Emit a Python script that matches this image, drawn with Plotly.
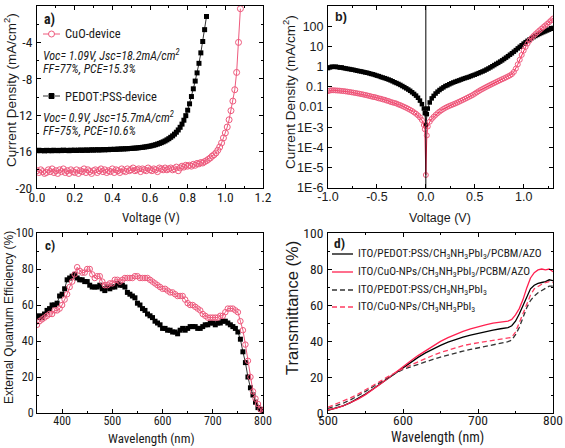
import plotly.graph_objects as go

# ---------------- Panel a: J-V under illumination ----------------
v_pedot = [0.00,0.01,0.02,0.03,0.04,0.05,0.06,0.07,0.08,0.09,
           0.10,0.11,0.12,0.13,0.14,0.15,0.16,0.17,0.18,0.19,
           0.20,0.21,0.22,0.23,0.24,0.25,0.26,0.27,0.28,0.29,
           0.30,0.31,0.32,0.33,0.34,0.35,0.36,0.37,0.38,0.39,
           0.40,0.41,0.42,0.43,0.44,0.45,0.46,0.47,0.48,0.49,
           0.50,0.51,0.52,0.53,0.54,0.55,0.56,0.57,0.58,0.59,
           0.60,0.61,0.62,0.63,0.64,0.65,0.66,0.67,0.68,0.69,
           0.70,0.71,0.72,0.73,0.74,0.75,0.76,0.77,0.78,0.79,
           0.80,0.81,0.82,0.83,0.84,0.85,0.86,0.87,0.88,0.89,0.90]
j_pedot = [-15.9,-15.85,-15.9,-15.88,-15.92,-15.86,-15.9,-15.87,-15.91,-15.85,
           -15.88,-15.9,-15.86,-15.89,-15.84,-15.88,-15.86,-15.9,-15.85,-15.87,
           -15.84,-15.88,-15.85,-15.83,-15.87,-15.84,-15.82,-15.86,-15.83,-15.8,
           -15.84,-15.81,-15.79,-15.83,-15.8,-15.78,-15.81,-15.77,-15.79,-15.75,
           -15.77,-15.74,-15.76,-15.72,-15.73,-15.7,-15.71,-15.68,-15.69,-15.66,
           -15.65,-15.63,-15.62,-15.6,-15.58,-15.55,-15.53,-15.5,-15.47,-15.43,
           -15.4,-15.35,-15.3,-15.24,-15.17,-15.1,-15.02,-14.93,-14.83,-14.71,
           -14.58,-14.43,-14.27,-14.08,-13.87,-13.62,-13.33,-12.98,-12.55,-12.05,
           -11.45,-10.75,-9.95,-9.1,-8.25,-7.35,-6.3,-5.15,-3.9,-2.6,-1.15]
v_cuo = [0.00,0.01,0.02,0.03,0.04,0.05,0.06,0.07,0.08,0.09,
         0.10,0.11,0.12,0.13,0.14,0.15,0.16,0.17,0.18,0.19,
         0.20,0.21,0.22,0.23,0.24,0.25,0.26,0.27,0.28,0.29,
         0.30,0.31,0.32,0.33,0.34,0.35,0.36,0.37,0.38,0.39,
         0.40,0.41,0.42,0.43,0.44,0.45,0.46,0.47,0.48,0.49,
         0.50,0.51,0.52,0.53,0.54,0.55,0.56,0.57,0.58,0.59,
         0.60,0.61,0.62,0.63,0.64,0.65,0.66,0.67,0.68,0.69,
         0.70,0.71,0.72,0.73,0.74,0.75,0.76,0.77,0.78,0.79,
         0.80,0.81,0.82,0.83,0.84,0.85,0.86,0.87,0.88,0.89,
         0.90,0.91,0.92,0.93,0.94,0.95,0.96,0.97,0.98,0.99,
         1.00,1.01,1.02,1.03,1.04,1.05,1.06,1.07,1.08]
j_cuo = [-18.1,-18.3,-18.0,-18.2,-18.4,-18.3,-18.0,-18.2,-17.9,-18.3,
         -18.1,-18.4,-18.0,-18.2,-17.9,-18.3,-18.1,-18.4,-18.0,-18.2,
         -18.3,-18.0,-18.4,-18.1,-18.2,-17.9,-18.3,-18.0,-18.2,-18.4,
         -18.1,-18.0,-18.3,-18.1,-17.9,-18.2,-18.0,-18.3,-18.1,-18.2,
         -17.9,-18.3,-18.0,-18.1,-18.3,-17.9,-18.1,-18.2,-17.9,-18.1,
         -18.0,-17.8,-18.1,-18.0,-17.9,-18.2,-17.9,-18.0,-18.1,-17.8,
         -18.0,-18.1,-17.9,-18.0,-18.2,-17.8,-17.9,-18.0,-17.8,-18.0,
         -17.9,-17.8,-18.0,-17.9,-17.7,-18.1,-17.8,-17.6,-17.7,-17.5,
         -17.6,-17.5,-17.6,-17.4,-17.5,-17.3,-17.35,-17.2,-17.25,-17.1,
         -17.0,-16.85,-16.7,-16.5,-16.35,-16.15,-15.85,-15.5,-15.05,-14.5,
         -13.95,-13.3,-12.5,-11.5,-10.45,-9.2,-7.3,-4.0,-0.3]
a_xticks = [0.0, 0.2, 0.4, 0.6, 0.8, 1.0, 1.2]
a_xticktext = ["0.0", "0.2", "0.4", "0.6", "0.8", "1.0", "1.2"]
a_yticks = [-20, -16, -12, -8, -4, 0]
a_yticktext = ["-20", "-16", "-12", "-8", "-4", "0"]

# ---------------- Panel b: dark J-V (log) ----------------
v_dark = [-1.00,-0.98,-0.96,-0.94,-0.92,-0.90,-0.88,-0.86,-0.84,-0.82,
          -0.80,-0.78,-0.76,-0.74,-0.72,-0.70,-0.68,-0.66,-0.64,-0.62,
          -0.60,-0.58,-0.56,-0.54,-0.52,-0.50,-0.48,-0.46,-0.44,-0.42,
          -0.40,-0.38,-0.36,-0.34,-0.32,-0.30,-0.28,-0.26,-0.24,-0.22,
          -0.20,-0.18,-0.16,-0.14,-0.12,-0.10,-0.08,-0.06,-0.04,-0.02,
          -0.01,0.00,0.01,
          0.02,0.04,0.06,0.08,0.10,0.12,0.14,0.16,0.18,0.20,
          0.22,0.24,0.26,0.28,0.30,0.32,0.34,0.36,0.38,0.40,
          0.42,0.44,0.46,0.48,0.50,0.52,0.54,0.56,0.58,0.60,
          0.62,0.64,0.66,0.68,0.70,0.72,0.74,0.76,0.78,0.80,
          0.82,0.84,0.86,0.88,0.90,0.92,0.94,0.96,0.98,1.00,
          1.02,1.04,1.06,1.08,1.10,1.12,1.14,1.16,1.18,1.20,
          1.22,1.24,1.26,1.28,1.30]
j_dark_pedot = [0.85,0.92,1.0,0.97,1.0,0.95,0.9,0.92,0.85,0.82,
                0.78,0.76,0.72,0.7,0.66,0.63,0.6,0.58,0.55,0.52,
                0.5,0.47,0.44,0.42,0.39,0.36,0.34,0.31,0.29,0.27,
                0.25,0.23,0.21,0.19,0.17,0.155,0.14,0.125,0.11,0.097,
                0.085,0.074,0.064,0.054,0.045,0.037,0.029,0.021,0.014,0.0085,
                0.005,0.0013,0.0045,
                0.0085,0.017,0.027,0.036,0.047,0.058,0.07,0.082,0.095,0.11,
                0.12,0.135,0.15,0.165,0.18,0.195,0.21,0.23,0.25,0.27,
                0.29,0.31,0.34,0.37,0.4,0.44,0.48,0.53,0.58,0.64,
                0.72,0.81,0.92,1.05,1.2,1.37,1.55,1.78,2.05,2.4,
                2.8,3.3,3.9,4.6,5.5,6.6,8.0,9.6,11.5,13.8,
                16.3,19.0,22.0,25.5,29.0,33.0,37.0,41.5,46.0,51.0,
                56.0,62.0,68.0,75.0,82.0]
j_dark_cuo = [0.062,0.066,0.068,0.068,0.067,0.066,0.065,0.063,0.062,0.06,
              0.058,0.056,0.054,0.052,0.05,0.048,0.046,0.044,0.042,0.04,
              0.038,0.036,0.034,0.032,0.031,0.029,0.027,0.026,0.024,0.023,
              0.021,0.02,0.018,0.017,0.016,0.015,0.0135,0.0125,0.0113,0.0102,
              0.0092,0.0082,0.0073,0.0064,0.0055,0.0047,0.0039,0.0031,0.0023,0.0013,
              0.0008,0.0000044,0.0004,
              0.0011,0.0019,0.0026,0.0033,0.0041,0.005,0.006,0.007,0.0081,0.0092,
              0.0103,0.0114,0.0125,0.0137,0.015,0.0166,0.0184,0.0205,0.0228,0.0254,
              0.0284,0.0318,0.0356,0.04,0.046,0.053,0.061,0.07,0.079,0.089,
              0.1,0.112,0.125,0.14,0.156,0.174,0.194,0.215,0.24,0.265,
              0.295,0.33,0.37,0.43,0.55,0.8,1.3,2.2,3.8,6.2,
              9.5,14.0,19.5,26.0,33.0,41.0,50.0,61.0,74.0,90.0,
              108.0,130.0,158.0,195.0,240.0]
b_xticks = [-1.0, -0.5, 0.0, 0.5, 1.0]
b_xticktext = ["-1.0", "-0.5", "0.0", "0.5", "1.0"]
b_tickvals = [1e-6, 1e-5, 1e-4, 1e-3, 0.01, 0.1, 1, 10, 100, 1000]
b_ticktext = ["1E-6", "1E-5", "1E-4", "1E-3", "0.01", "0.1", "1", "10", "100", "1000"]

# ---------------- Panel c: EQE ----------------
wl_eqe = [350,355,360,365,370,375,380,385,390,395,
          400,405,410,415,420,425,430,435,440,445,
          450,455,460,465,470,475,480,485,490,495,
          500,505,510,515,520,525,530,535,540,545,
          550,555,560,565,570,575,580,585,590,595,
          600,605,610,615,620,625,630,635,640,645,
          650,655,660,665,670,675,680,685,690,695,
          700,705,710,715,720,725,730,735,740,745,
          750,755,760,765,770,775,780,785,790,795,800]
eqe_pedot = [53,54,53,55,57,58,60,60,61,65,
             66,69,74,75,76,77,75,74,74,73,
             73,71,70,70,70,71,69,68,70,69,
             70,70,72,71,71,70,67,66,65,64,
             61,60,58,57,55,54,53,51,50,49,
             47,47,46,46,45,45,44,46,47,46,
             47,48,48,48,47,47,48,49,49,50,
             50,49,50,50,51,51,50,49,48,47,
             45,41,34,28,20,14,10,6,3,2,1]
eqe_cuo = [49,51,52,53,54,55,55,57,57,58,
           60,63,66,70,73,77,81,79,78,78,
           80,80,77,75,76,76,73,71,71,72,
           72,74,74,73,74,75,75,75,75,76,
           76,75,75,75,75,74,73,72,71,70,
           69,69,68,67,67,66,65,65,65,63,
           61,60,60,59,58,57,55,54,53,53,
           53,53,53,54,54,56,58,58,58,57,
           56,51,46,38,29,20,12,8,5,2,1]

# ---------------- Panel d: transmittance ----------------
wl_t = [500,510,520,530,540,550,560,570,580,590,
        600,610,620,630,640,650,660,670,680,690,
        700,710,720,730,740,745,750,755,760,765,
        770,775,780,785,790,795,800]
t_pedot_full = [1.5,2.6,4.0,5.8,8.0,10.5,13.3,16.3,19.4,22.4,
                25.3,28.2,30.9,33.4,35.6,37.6,39.4,40.9,42.2,43.3,
                44.3,45.2,46.0,46.8,47.4,48.5,51.0,55.0,60.0,65.0,
                69.0,71.0,72.0,72.5,73.0,74.0,73.5]
t_cuo_full = [1.8,2.6,3.9,5.6,7.7,10.2,13.0,16.1,19.3,22.6,
              25.8,28.9,31.9,34.7,37.3,39.8,41.9,43.8,45.4,46.8,
              48.0,49.0,49.9,50.6,51.0,52.0,54.5,58.0,63.0,69.5,
              75.0,78.0,79.5,80.0,79.5,80.0,78.5]
t_pedot_psk = [2.5,3.8,5.4,7.3,9.5,12.0,14.6,17.2,19.8,22.1,
               24.2,25.7,27.1,28.5,29.8,31.1,32.3,33.4,34.4,35.3,
               36.1,36.9,37.7,38.6,39.6,40.5,43.5,47.5,53.0,58.5,
               62.5,65.0,66.8,68.0,69.0,70.5,70.5]
t_cuo_psk = [3.2,4.8,6.5,8.4,10.5,12.8,15.2,17.7,20.2,22.5,
             24.6,26.6,28.5,30.3,32.0,33.6,35.0,36.3,37.4,38.3,
             39.0,39.7,40.4,41.0,41.5,42.0,45.0,50.0,56.0,61.0,
             65.5,69.0,70.5,71.5,72.5,73.0,72.5]
d_labels = ["ITO/PEDOT:PSS/CH<sub>3</sub>NH<sub>3</sub>PbI<sub>3</sub>/PCBM/AZO",
            "ITO/CuO-NPs/CH<sub>3</sub>NH<sub>3</sub>PbI<sub>3</sub>/PCBM/AZO",
            "ITO/PEDOT:PSS/CH<sub>3</sub>NH<sub>3</sub>PbI<sub>3</sub>",
            "ITO/CuO-NPs/CH<sub>3</sub>NH<sub>3</sub>PbI<sub>3</sub>"]

# ---------------- styling ----------------
W, H = 565, 448
PINK = "#ee5a7d"
RED = "#ff2150"
REDD = "#ff3d62"
TXT = "#1a1a1a"
COND = "Roboto Condensed, Liberation Sans Narrow, Liberation Sans, Arial, sans-serif"
REG = "Liberation Sans, Arial, sans-serif"


def px(x, y):
    return x / W, 1 - y / H


def dom_x(a, b):
    return [a / W, b / W]


def dom_y(top, bottom):
    return [1 - bottom / H, 1 - top / H]


def axis(domain, anchor, fam, size, **kw):
    d = dict(domain=domain, anchor=anchor, automargin=False, showline=True, linecolor="black",
             linewidth=1, mirror="ticks", ticks="inside", ticklen=4, tickwidth=1,
             tickcolor="black", showgrid=False, zeroline=False,
             tickfont=dict(family=fam, size=size, color=TXT))
    d.update(kw)
    return d


def minor(dt):
    return dict(ticks="inside", ticklen=2, dtick=dt, tickcolor="black", showgrid=False)


fig = go.Figure()

# panel a
fig.add_trace(go.Scatter(x=v_pedot, y=j_pedot, mode="lines+markers", xaxis="x", yaxis="y",
                         line=dict(color="#333333", width=1),
                         marker=dict(symbol="square", size=5, color="black"), showlegend=False))
fig.add_trace(go.Scatter(x=v_cuo, y=j_cuo, mode="lines+markers", xaxis="x", yaxis="y",
                         line=dict(color=PINK, width=1),
                         marker=dict(symbol="circle-open", size=6, color=PINK, line=dict(width=1)),
                         showlegend=False))
# panel b
fig.add_trace(go.Scatter(x=v_dark, y=j_dark_pedot, mode="lines+markers", xaxis="x2", yaxis="y2",
                         line=dict(color="#333333", width=1),
                         marker=dict(symbol="square", size=4.5, color="black"), showlegend=False))
fig.add_trace(go.Scatter(x=v_dark, y=j_dark_cuo, mode="lines+markers", xaxis="x2", yaxis="y2",
                         line=dict(color=RED, width=1),
                         marker=dict(symbol="circle-open", size=5, color=PINK, line=dict(width=1)),
                         showlegend=False))
# panel c
fig.add_trace(go.Scatter(x=wl_eqe, y=eqe_pedot, mode="lines+markers", xaxis="x3", yaxis="y3",
                         line=dict(color="#333333", width=1),
                         marker=dict(symbol="square", size=5, color="black"), showlegend=False))
fig.add_trace(go.Scatter(x=wl_eqe, y=eqe_cuo, mode="lines+markers", xaxis="x3", yaxis="y3",
                         line=dict(color=PINK, width=1),
                         marker=dict(symbol="circle-open", size=5.5, color=PINK, line=dict(width=1)),
                         showlegend=False))
# panel d
d_series = [(t_pedot_full, "black", "solid"), (t_cuo_full, RED, "solid"),
            (t_pedot_psk, "#333333", "5px,3px"), (t_cuo_psk, REDD, "5px,3px")]
for ys, col, dash in d_series:
    fig.add_trace(go.Scatter(x=wl_t, y=ys, mode="lines", xaxis="x4", yaxis="y4",
                             line=dict(color=col, width=1.3, dash=dash), showlegend=False))

LX = dom_x(37, 263)
RX = dom_x(328, 553)
TY = dom_y(6, 188)
BY = dom_y(233, 413)

fig.update_layout(
    width=W, height=H, margin=dict(l=0, r=0, t=0, b=0),
    paper_bgcolor="white", plot_bgcolor="white", showlegend=False,
    xaxis=axis(LX, "y", COND, 13.5, range=[0, 1.2], tickmode="array", tickvals=a_xticks,
               ticktext=a_xticktext, minor=minor(0.1), ticklabelstandoff=-3),
    yaxis=axis(TY, "x", COND, 13.5, range=[-20, 0], tickmode="array", tickvals=a_yticks,
               ticktext=a_yticktext, minor=minor(2), ticklabelstandoff=1),
    xaxis2=axis(RX, "y2", REG, 12.5, range=[-1, 1.3], tickmode="array", tickvals=b_xticks,
                ticktext=b_xticktext, minor=minor(0.25), ticklabelstandoff=-3),
    yaxis2=axis(TY, "x2", REG, 12.5, type="log", range=[-6, 3], tickmode="array",
                tickvals=b_tickvals, ticktext=b_ticktext, ticklabelstandoff=1),
    xaxis3=axis(LX, "y3", COND, 12, range=[350, 800], dtick=100, minor=minor(50),
                ticklabelstandoff=-3),
    yaxis3=axis(BY, "x3", COND, 12, range=[0, 100], dtick=20, minor=minor(10)),
    xaxis4=axis(RX, "y4", COND, 13.5, range=[500, 800], dtick=100, minor=minor(50),
                ticklabelstandoff=-5),
    yaxis4=axis(BY, "x4", COND, 13.5, range=[0, 100], dtick=20, minor=minor(10),
                ticklabelstandoff=1),
)

ann = []
shapes = []


def text(x, y, s, fam, size, xanchor="left", angle=0):
    X, Y = px(x, y)
    ann.append(dict(x=X, y=Y, xref="paper", yref="paper", text=s, showarrow=False,
                    xanchor=xanchor, yanchor="middle", textangle=angle,
                    font=dict(family=fam, size=size, color=TXT)))


# axis titles
text(10, 90, "Current Density (mA/cm<sup>2</sup>)", REG, 13.5, xanchor="center", angle=-90)
text(151, 218, "Voltage (V)", COND, 13, xanchor="center")
text(289, 92, "Current Density (mA/cm<sup>2</sup>)", REG, 13.5, xanchor="center", angle=-90)
text(440, 218, "Voltage (V)", REG, 12.5, xanchor="center")
text(9, 318, "External Quantum Efficiency (%)", REG, 12, xanchor="center", angle=-90)
text(151, 438, "Wavelength (nm)", COND, 13, xanchor="center")
text(292, 308, "Transmittance (%)", REG, 16.5, xanchor="center", angle=-90)
text(437, 437, "Wavelength (nm)", COND, 14, xanchor="center")

# panel labels
text(42, 20, "<b>a)</b>", COND, 14)
text(333, 17, "<b>b)</b>", REG, 12.5)
text(43, 245, "<b>c)</b>", COND, 13)
text(332, 243, "<b>d)</b>", COND, 13.5)

# panel a legend & annotations
text(63, 34, "CuO-device", COND, 12.5)
text(41, 55, "<i>Voc= 1.09V, Jsc=18.2mA/cm<sup>2</sup></i>", COND, 12)
text(41, 69, "<i>FF=77%, PCE=15.3%</i>", COND, 12)
text(63, 96, "PEDOT:PSS-device", COND, 12.5)
text(41, 117, "<i>Voc= 0.9V, Jsc=15.7mA/cm<sup>2</sup></i>", COND, 12)
text(41, 131, "<i>FF=75%, PCE=10.6%</i>", COND, 12)


def pline(x0, y0, x1, y1, col, width=1, dash="solid"):
    X0, Y0 = px(x0, y0)
    X1, Y1 = px(x1, y1)
    shapes.append(dict(type="line", xref="paper", yref="paper", x0=X0, y0=Y0, x1=X1, y1=Y1,
                       line=dict(color=col, width=width, dash=dash)))


def pshape(kind, x0, y0, x1, y1, col, fill):
    X0, Y0 = px(x0, y0)
    X1, Y1 = px(x1, y1)
    shapes.append(dict(type=kind, xref="paper", yref="paper", x0=X0, y0=Y1, x1=X1, y1=Y0,
                       line=dict(color=col, width=1), fillcolor=fill))


pline(43, 34, 60, 34, PINK)
pshape("circle", 48.5, 31, 54.5, 37, PINK, "white")
pline(43, 96, 48, 96, "#333333")
pline(55, 96, 60, 96, "#333333")
pshape("rect", 49, 93.5, 54, 98.5, "black", "black")

# panel b zero line
shapes.append(dict(type="line", xref="x2", yref="y2 domain", x0=0, x1=0, y0=0, y1=1,
                   line=dict(color="black", width=1)))

# panel d legend
leg_rows = [254, 272, 290, 307]
for (ys, col, dash), lab, yy in zip(d_series, d_labels, leg_rows):
    pline(332, yy, 353, yy, col, width=1.3, dash=dash)
    text(356, yy, lab, COND, 11.3)

fig.update_layout(annotations=ann, shapes=shapes)
fig.write_html("out.html", config={"displayModeBar": False},
               post_script="document.body.style.margin='0px';")
